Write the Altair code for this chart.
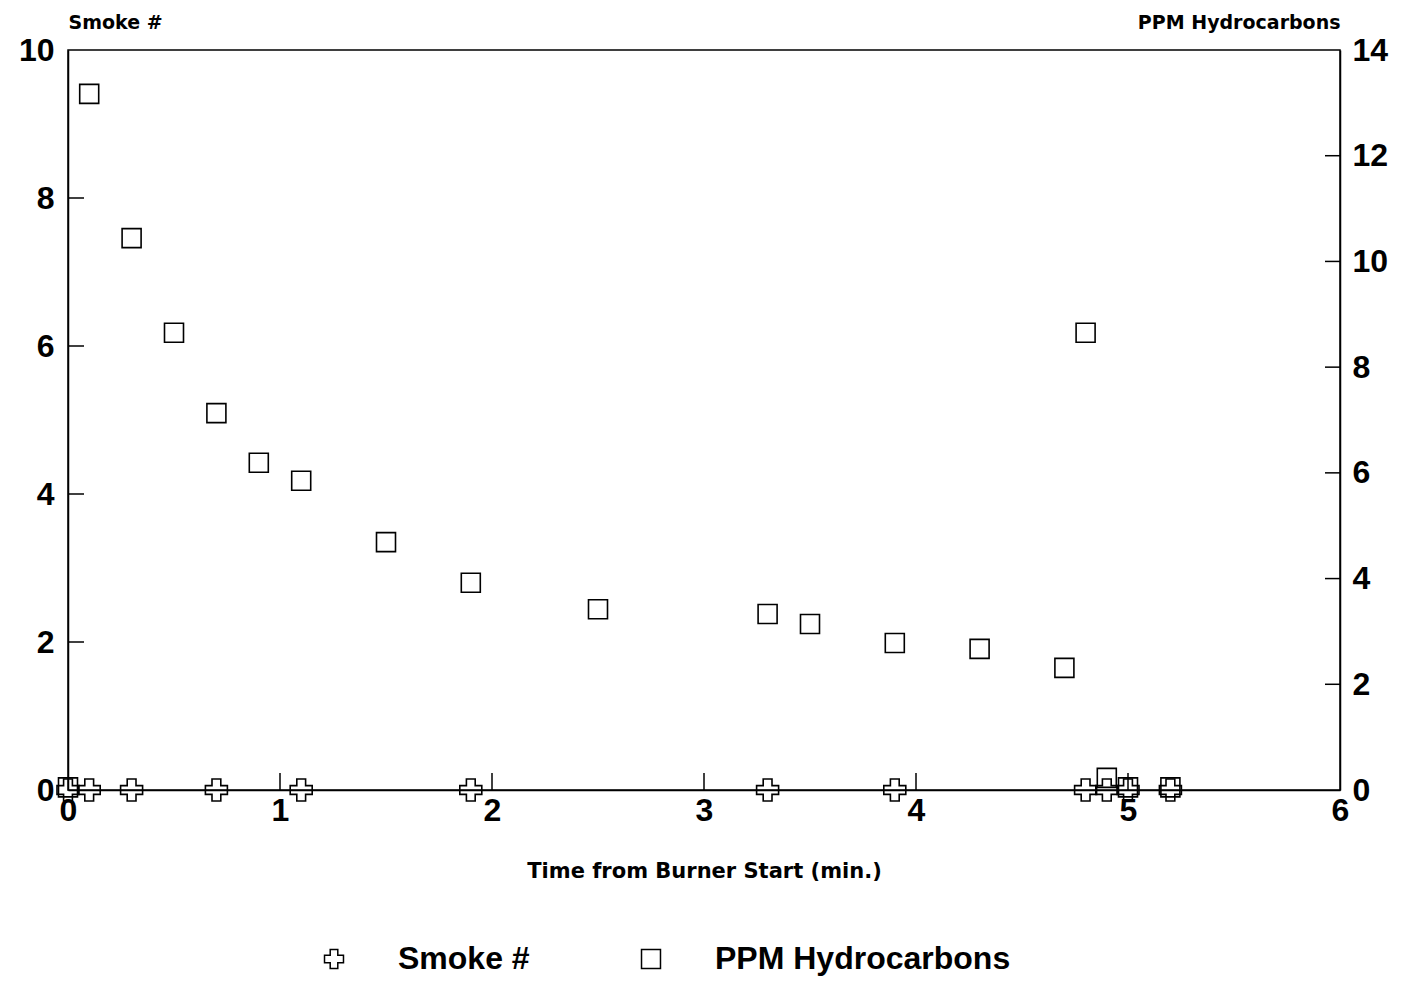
import altair as alt
import pandas as pd

# ---- data ----
time_smoke = [0.0, 0.1, 0.3, 0.7, 1.1, 1.9, 3.3, 3.9, 4.8, 4.9, 5.0, 5.2]
smoke = [0, 0, 0, 0, 0, 0, 0, 0, 0, 0, 0, 0]

time_ppm = [0.0, 0.1, 0.3, 0.5, 0.7, 0.9, 1.1, 1.5, 1.9, 2.5, 3.3, 3.5, 3.9, 4.3,
            4.7, 4.8, 4.9, 5.0, 5.2]
ppm = [0.05, 13.17, 10.44, 8.65, 7.13, 6.19, 5.85, 4.69, 3.92, 3.42, 3.33, 3.14,
       2.78, 2.67, 2.31, 8.65, 0.23, 0.05, 0.05]

x_ticks = [0, 1, 2, 3, 4, 5, 6]
x_inner_ticks = [1, 2, 3, 4, 5]
left_ticks = [0, 2, 4, 6, 8, 10]
left_inner_ticks = [2, 4, 6, 8]
right_ticks = [0, 2, 4, 6, 8, 10, 12, 14]
right_inner_ticks = [2, 4, 6, 8, 10, 12]

series_names = ["Smoke #", "PPM Hydrocarbons"]

W, H = 1272, 740
FONT = "Liberation Sans"
TFONT = "DejaVu Sans"

smoke_df = pd.DataFrame({"t": time_smoke, "v": smoke, "series": series_names[0]})
ppm_df = pd.DataFrame({"t": time_ppm, "v": ppm, "series": series_names[1]})

shape_scale = alt.Scale(domain=series_names, range=["cross", "square"])
legend_def = alt.Legend(title=None)

x_scale = alt.Scale(domain=[0, 6], nice=False, zero=False)
x_axis = alt.Axis(values=x_ticks, title="Time from Burner Start (min.)", ticks=False,
                  grid=False, labelFontSize=32, labelFont=FONT, labelFontWeight="bold",
                  labelPadding=5, labelFlush=False, labelOverlap=False,
                  titleFont=TFONT, titleFontSize=21, titleFontWeight="bold",
                  titlePadding=34, domainColor="black", domainWidth=1.5,
                  labelColor="black", titleColor="black")

yl_scale = alt.Scale(domain=[0, 10], nice=False)
yl_axis = alt.Axis(values=left_ticks, title="Smoke #", titleAngle=0, titleX=0, titleY=-22,
                   titleAlign="left", titleBaseline="alphabetic", ticks=False, grid=False,
                   labelFontSize=32, labelFont=FONT, labelFontWeight="bold", labelPadding=14,
                   labelOverlap=False, titleFont=TFONT, titleFontSize=19,
                   titleFontWeight="bold", domainColor="black", domainWidth=1.5,
                   labelColor="black", titleColor="black", orient="left")

yr_scale = alt.Scale(domain=[0, 14], nice=False)
yr_axis = alt.Axis(values=right_ticks, title="PPM Hydrocarbons", titleAngle=0, titleX=0,
                   titleY=-22, titleAlign="right", titleBaseline="alphabetic", ticks=False,
                   grid=False, labelFontSize=32, labelFont=FONT, labelFontWeight="bold",
                   labelPadding=12, labelOverlap=False, titleFont=TFONT, titleFontSize=19,
                   titleFontWeight="bold", domainColor="black", domainWidth=1.5,
                   labelColor="black", titleColor="black", orient="right")

smoke_pts = alt.Chart(smoke_df).mark_point(
    filled=False, size=484, strokeWidth=1.6, color="black", opacity=1
).encode(
    x=alt.X("t:Q", scale=x_scale, axis=x_axis),
    y=alt.Y("v:Q", scale=yl_scale, axis=yl_axis),
    shape=alt.Shape("series:N", scale=shape_scale, legend=legend_def),
)

left_rules = alt.Chart(pd.DataFrame({"v": left_inner_ticks})).mark_rule(
    color="black", strokeWidth=1.5
).encode(
    y=alt.Y("v:Q", scale=yl_scale, axis=yl_axis),
    x=alt.value(0), x2=alt.value(16),
)

x_rules = alt.Chart(pd.DataFrame({"t": x_inner_ticks})).mark_rule(
    color="black", strokeWidth=1.5
).encode(
    x=alt.X("t:Q", scale=x_scale, axis=x_axis),
    y=alt.value(H - 17), y2=alt.value(H),
)

ppm_pts = alt.Chart(ppm_df).mark_point(
    filled=False, size=361, strokeWidth=1.6, color="black", opacity=1
).encode(
    x=alt.X("t:Q", scale=x_scale, axis=x_axis),
    y=alt.Y("v:Q", scale=yr_scale, axis=yr_axis),
    shape=alt.Shape("series:N", scale=shape_scale, legend=legend_def),
)

right_rules = alt.Chart(pd.DataFrame({"v": right_inner_ticks})).mark_rule(
    color="black", strokeWidth=1.5
).encode(
    y=alt.Y("v:Q", scale=yr_scale, axis=yr_axis),
    x=alt.value(W - 15), x2=alt.value(W),
)

left = alt.layer(smoke_pts, left_rules, x_rules)
right = alt.layer(ppm_pts, right_rules)

chart = alt.layer(left, right).resolve_scale(y="independent").properties(
    width=W, height=H,
    autosize=alt.AutoSizeParams(type="none"),
    padding={"left": 60, "top": 42, "right": 64, "bottom": 190},
    background="white",
).configure_view(
    stroke="black", strokeWidth=1.5
).configure_legend(
    orient="none", legendX=250, legendY=893, direction="horizontal",
    symbolSize=360, symbolStrokeWidth=1.5, symbolStrokeColor="black",
    symbolFillColor="transparent", labelFont=FONT, labelFontSize=32,
    labelFontWeight="bold", labelColor="black", labelOffset=48, columnPadding=105,
    labelLimit=1000,
)

chart.save("out.html", embed_options={"renderer": "svg", "actions": False})
